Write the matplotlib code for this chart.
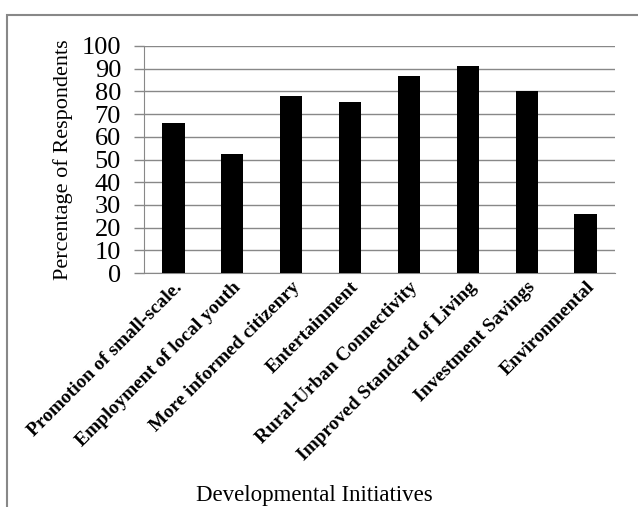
import matplotlib
matplotlib.use("Agg")
from matplotlib import pyplot as plt
from matplotlib.patches import Rectangle

categories = ["Promotion of small-scale.", "Employment of local youth",
              "More informed citizenry", "Entertainment",
              "Rural-Urban Connectivity", "Improved Standard of Living",
              "Investment Savings", "Environmental"]
values = [66, 52.5, 78, 75.5, 87, 91, 80, 26]
yticks = list(range(0, 101, 10))

plt.rcParams["font.family"] = ["Liberation Serif", "DejaVu Serif"]

fig = plt.figure(figsize=(6.38, 5.07), dpi=100)
ax = fig.add_axes([144 / 638, 1 - 273 / 507, (615 - 144) / 638, (273 - 46) / 507])

x = range(len(categories))
ax.bar(x, values, width=0.38, color="black", zorder=3)
ax.set_xlim(-0.5, len(categories) - 0.5)
ax.set_ylim(0, 100)
ax.set_yticks(yticks)
ax.set_yticklabels([str(t) for t in yticks], fontsize=19)
ax.set_xticks(list(x))
ax.set_xticklabels(categories, rotation=45, ha="right", rotation_mode="anchor",
                   fontsize=14, fontweight="bold")
ax.tick_params(axis="x", length=0, pad=4)
ax.tick_params(axis="y", length=7.5, color="#888888", width=1, pad=9)
ax.yaxis.grid(True, color="#888888", linewidth=1, zorder=0)
for s in ["top", "right"]:
    ax.spines[s].set_visible(False)
ax.spines["left"].set_color("#888888")
ax.spines["bottom"].set_color("#888888")

ax.set_ylabel("Percentage of Respondents", fontsize=16, labelpad=6)
fig.text(0.492, 0.012, "Developmental Initiatives", fontsize=16.5, ha="center")

# outer chart border
fig.patches.append(Rectangle((7 / 638, -0.1), 1.1, 1 - 15 / 507 + 0.1,
                             transform=fig.transFigure, fill=False,
                             edgecolor="#888888", linewidth=1.5))

fig.savefig("out.png", dpi=100)
